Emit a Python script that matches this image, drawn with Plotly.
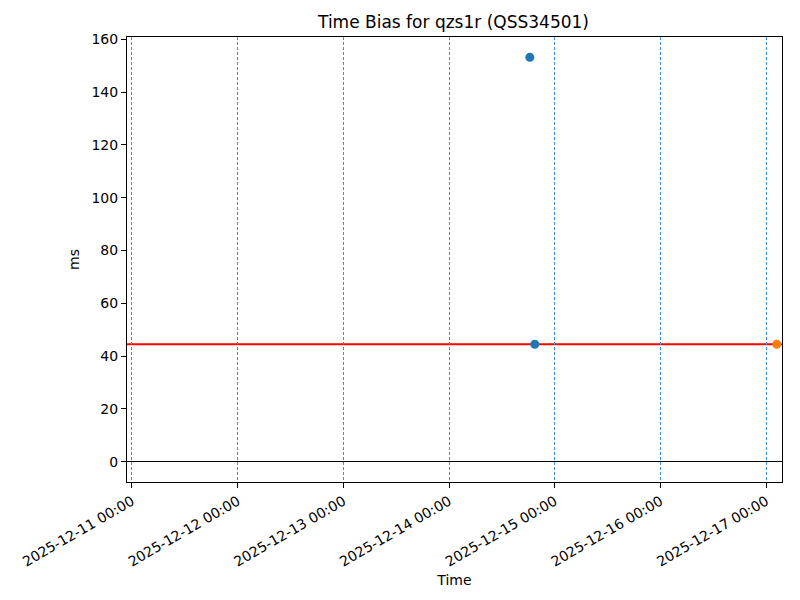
import plotly.graph_objects as go

title_text = "Time Bias for qzs1r (QSS34501)"
blue_times = ["2025-12-14 18:20", "2025-12-14 19:28"]
blue_values = [153.2, 44.5]
orange_times = ["2025-12-17 02:25"]
orange_values = [44.5]
ref_level = 44.5
x_range = ["2025-12-10 22:52", "2025-12-17 03:36"]
y_range = [-7.66, 160.9]
y_ticks = [0, 20, 40, 60, 80, 100, 120, 140, 160]

font_family = "DejaVu Sans, Liberation Sans, sans-serif"

fig = go.Figure()
fig.add_trace(go.Scatter(x=blue_times, y=blue_values, mode="markers",
                         marker=dict(color="#1f77b4", size=9), showlegend=False))
fig.add_trace(go.Scatter(x=orange_times, y=orange_values, mode="markers",
                         marker=dict(color="#ff7f0e", size=9), showlegend=False))

fig.add_shape(type="line", xref="paper", x0=0, x1=1, yref="y", y0=ref_level, y1=ref_level,
              line=dict(color="red", width=2), layer="below")

fig.update_layout(
    width=800, height=600,
    margin=dict(l=117, r=26, t=29, b=126),
    paper_bgcolor="white", plot_bgcolor="white",
    font=dict(family=font_family, size=14, color="black"),
    title=dict(text=title_text, x=(117 + 657 / 2) / 800, xanchor="center", y=1 - 14/600, yanchor="middle",
               font=dict(size=17, color="black")),
    xaxis=dict(
        range=x_range, type="date",
        tick0="2025-12-11", dtick=86400000, tickformat="%Y-%m-%d %H:%M",
        tickangle=-30, ticks="outside", ticklen=5, tickcolor="black", tickwidth=1,
        showline=True, linecolor="black", linewidth=1, mirror=True,
        showgrid=True, gridcolor="#3b8fd0", gridwidth=0.7, griddash="3px,2px",
        zeroline=False,
        title=dict(text="Time", font=dict(size=14), standoff=6),
        tickfont=dict(size=14),
    ),
    yaxis=dict(
        range=y_range, tickvals=y_ticks,
        ticks="outside", ticklen=5, tickcolor="black", tickwidth=1,
        showline=True, linecolor="black", linewidth=1, mirror=True,
        showgrid=False,
        zeroline=True, zerolinecolor="black", zerolinewidth=0.8,
        title=dict(text="ms", font=dict(size=14), standoff=8),
        tickfont=dict(size=14),
    ),
)

fig.write_html("out.html")
